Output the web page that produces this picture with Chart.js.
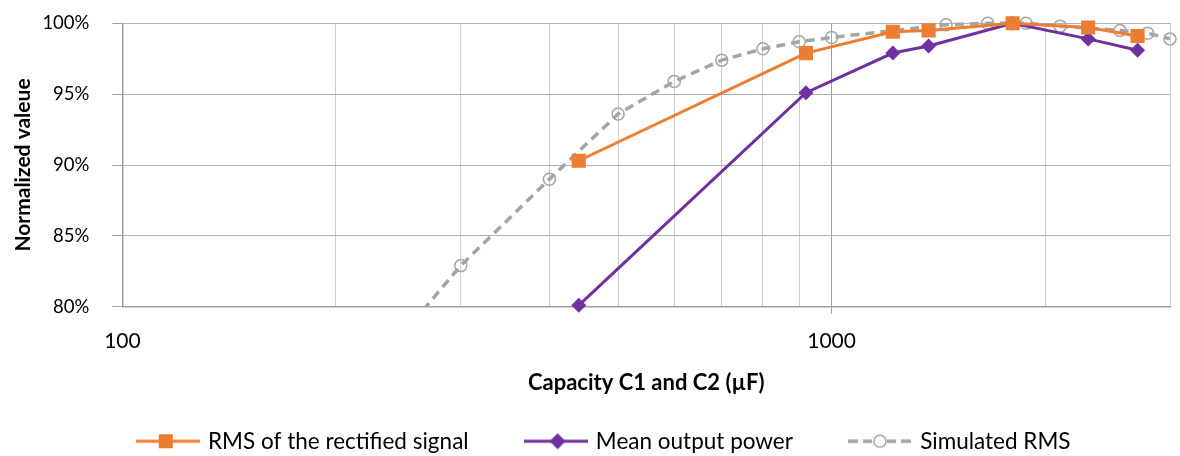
<!DOCTYPE html>
<html>
<head>
<meta charset="utf-8">
<script src="https://cdn.jsdelivr.net/npm/chart.js@4.4.1/dist/chart.umd.min.js"></script>
<style>
  html, body { margin: 0; padding: 0; background: #fff; }
  #wrap { width: 1180px; height: 456px; }
</style>
</head>
<body>
<div id="wrap"><canvas id="chart"></canvas></div>
<script>
// values
const rmsX = [440, 920, 1220, 1370, 1800, 2300, 2700];
const rmsY = [90.3, 97.9, 99.4, 99.5, 100, 99.7, 99.1];
const powerX = [440, 920, 1220, 1370, 1800, 2300, 2700];
const powerY = [80.1, 95.1, 97.9, 98.4, 100, 98.9, 98.1];
const simX = [200, 300, 400, 500, 600, 700, 800, 900, 1000, 1450, 1660, 1880, 2100, 2550, 2790, 3000];
const simY = [72.5, 82.9, 89.0, 93.6, 95.9, 97.4, 98.2, 98.7, 99.0, 99.9, 100, 100, 99.8, 99.5, 99.3, 98.9];
const xTicks = [100, 200, 300, 400, 500, 600, 700, 800, 900, 1000, 2000, 3000];
const xLabels = [100, 1000];
const yTicks = [80, 85, 90, 95, 100];

const ORANGE = "#ED7D31";
const PURPLE = "#7030A0";
const GREY = "#A5A5A5";
const FONT = "Lato, 'Liberation Sans', sans-serif";

function pts(xs, ys) {
  return xs.map((x, i) => ({ x: x, y: ys[i] }));
}

// legend samples: line with the marker in the middle
function sample(kind) {
  const c = document.createElement("canvas");
  c.width = 64;
  c.height = 20;
  const g = c.getContext("2d");
  g.lineWidth = 3;
  if (kind === "rms") {
    g.strokeStyle = ORANGE;
    g.beginPath(); g.moveTo(0, 10); g.lineTo(64, 10); g.stroke();
    g.fillStyle = ORANGE;
    g.fillRect(23, 3, 14, 14);
  } else if (kind === "power") {
    g.strokeStyle = PURPLE;
    g.beginPath(); g.moveTo(0, 10); g.lineTo(64, 10); g.stroke();
    g.fillStyle = PURPLE;
    g.beginPath(); g.moveTo(34, 2); g.lineTo(42, 10); g.lineTo(34, 18); g.lineTo(26, 10); g.closePath(); g.fill();
  } else {
    g.strokeStyle = GREY;
    g.lineWidth = 3.5;
    [[0, 10], [15, 24], [39, 48], [53, 63]].forEach(([a, b]) => {
      g.beginPath(); g.moveTo(a, 10); g.lineTo(b, 10); g.stroke();
    });
    g.lineWidth = 1.5;
    g.beginPath(); g.arc(32, 10, 6, 0, Math.PI * 2); g.stroke();
  }
  return c;
}
const samples = [sample("rms"), sample("power"), sample("sim")];

// keep the legend thin in the layout and place it where the reference has it
const legendPlace = {
  id: "legendPlace",
  beforeLayout(chart) {
    const lg = chart.legend;
    if (lg && !lg._patched) {
      const fit = lg.fit;
      lg.fit = function () {
        fit.call(this);
        this.height = 44;
      };
      lg._patched = true;
    }
  },
  afterLayout(chart) {
    const lg = chart.legend;
    lg.left += 18;
    lg.right += 18;
    lg.top = 441 - 11 - 58;
  },
};

new Chart("chart", {
  type: "line",
  data: {
    datasets: [
      {
        label: "RMS of the rectified signal",
        data: pts(rmsX, rmsY),
        borderColor: ORANGE,
        backgroundColor: ORANGE,
        borderWidth: 3,
        pointStyle: "rect",
        pointRadius: 10,
        pointBorderWidth: 0,
        clip: 12,
      },
      {
        label: "Mean output power",
        data: pts(powerX, powerY),
        borderColor: PURPLE,
        backgroundColor: PURPLE,
        borderWidth: 3,
        pointStyle: "rectRot",
        pointRadius: 7.5,
        pointBorderWidth: 0,
        clip: 12,
      },
      {
        label: "Simulated RMS",
        data: pts(simX, simY),
        borderColor: GREY,
        backgroundColor: "rgba(0,0,0,0)",
        borderWidth: 3.5,
        borderDash: [9, 6],
        pointStyle: "circle",
        pointRadius: 6,
        pointBorderWidth: 1.5,
        pointBorderColor: GREY,
        clip: { left: 0, top: 12, right: 12, bottom: 0 },
      },
    ],
  },
  options: {
    responsive: true,
    maintainAspectRatio: false,
    animation: false,
    layout: { padding: { top: 23.3, right: 6.7, left: 0, bottom: 0 } },
    plugins: {
      tooltip: { enabled: false },
      legend: {
        position: "bottom",
        labels: {
          usePointStyle: true,
          pointStyleWidth: 58,
          padding: 58,
          color: "#000",
          font: { family: FONT, size: 22.5 },
          generateLabels(chart) {
            return chart.data.datasets.map((ds, i) => ({
              text: ds.label,
              pointStyle: samples[i],
              fillStyle: ds.borderColor,
              strokeStyle: ds.borderColor,
              lineWidth: 0,
              hidden: false,
              datasetIndex: i,
            }));
          },
        },
      },
    },
    scales: {
      x: {
        type: "logarithmic",
        min: 100,
        max: 3000,
        afterBuildTicks(scale) {
          scale.ticks = xTicks.map((v) => ({ value: v, major: xLabels.includes(v) }));
        },
        afterFit(scale) {
          scale.height = 456 - 306.7 - 44;
          scale.paddingLeft = 0;
          scale.paddingRight = 0;
        },
        ticks: {
          autoSkip: false,
          maxRotation: 0,
          padding: 15,
          color: "#000",
          font: { family: FONT, size: 21 },
          callback: (v) => (xLabels.includes(v) ? String(v) : ""),
        },
        grid: {
          color: (c) => (c.tick && c.tick.value === 1000 ? "#a0a0a0" : "#cfcfcf"),
          tickColor: (c) => (c.tick && c.tick.value === 1000 ? "#a0a0a0" : "rgba(0,0,0,0)"),
          tickLength: 7,
        },
        border: { color: "#a0a0a0", width: 1.5 },
        title: {
          display: true,
          text: "Capacity C1 and C2 (µF)",
          color: "#000",
          font: { family: FONT, size: 22, weight: "bold" },
          padding: { top: 0, bottom: 15.8 },
        },
      },
      y: {
        min: 80,
        max: 100,
        afterBuildTicks(scale) {
          scale.ticks = yTicks.map((v) => ({ value: v }));
        },
        afterFit(scale) {
          scale.width = 122.4;
          scale.paddingTop = 0;
          scale.paddingBottom = 0;
        },
        ticks: {
          padding: 23,
          color: "#000",
          font: { family: FONT, size: 18.5 },
          callback: (v) => v + "%",
        },
        grid: { color: "#b0b0b0", tickColor: "#a0a0a0", tickLength: 10 },
        border: { color: "#a0a0a0", width: 1.5 },
        title: {
          display: true,
          text: "Normalized valeue",
          color: "#000",
          font: { family: FONT, size: 21, weight: "bold" },
          padding: { top: 10.4, bottom: 0 },
        },
      },
    },
  },
  plugins: [legendPlace],
});
</script>
</body>
</html>
